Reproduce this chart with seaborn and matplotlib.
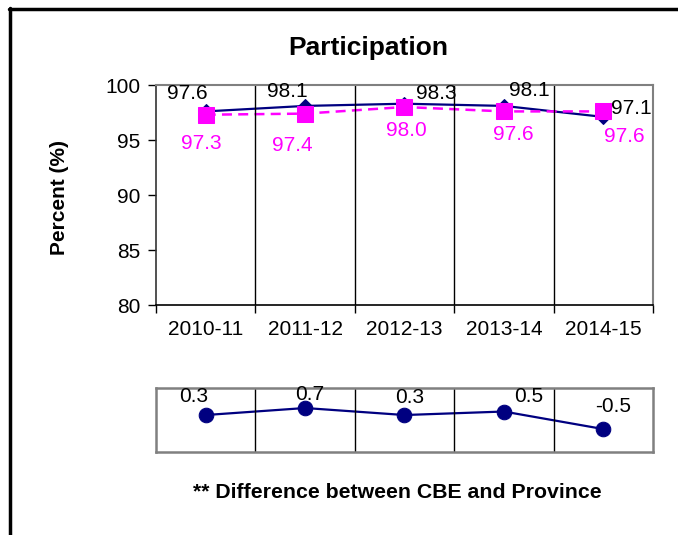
import matplotlib
matplotlib.use("Agg")
import matplotlib.pyplot as plt
import seaborn as sns
import pandas as pd
from matplotlib.lines import Line2D

years = ["2010-11", "2011-12", "2012-13", "2013-14", "2014-15"]
cbe = [97.6, 98.1, 98.3, 98.1, 97.1]
province = [97.3, 97.4, 98.0, 97.6, 97.6]
diff = [0.3, 0.7, 0.3, 0.5, -0.5]
y_ticks = [80, 85, 90, 95, 100]

# label offsets in pixels
cbe_off = [(-18, 18), (-18, 14), (32, 10), (25, 15), (28, 8)]
prov_off = [(-4, -29), (-13, -32), (2, -23), (9, -23), (21, -25)]
diff_off = [(-12, 19), (5, 14), (5, 18), (25, 15), (10, 23)]

NAVY = "#000080"
MAGENTA = "#FF00FF"
GRAY = "#808080"

sns.set_style("white")
plt.rcParams["font.family"] = ["Liberation Sans", "DejaVu Sans"]
plt.rcParams["text.color"] = "black"
plt.rcParams["axes.labelcolor"] = "black"
plt.rcParams["xtick.color"] = "black"
plt.rcParams["ytick.color"] = "black"

df = pd.DataFrame({"year": years, "cbe": cbe, "province": province, "diff": diff})

fig = plt.figure(figsize=(6.78, 5.35), dpi=100)
ax = fig.add_axes([0.2301, 0.4299, 0.7330, 0.4112])
ax2 = fig.add_axes([0.2301, 0.1551, 0.7330, 0.1196])

# main chart
sns.lineplot(data=df, x="year", y="cbe", ax=ax, sort=False, color=NAVY,
             marker="D", markersize=7, markeredgecolor=NAVY, linewidth=1.6)
sns.lineplot(data=df, x="year", y="province", ax=ax, sort=False, color=MAGENTA,
             marker="s", markersize=11, markeredgecolor=MAGENTA, linewidth=1.8,
             linestyle=(0, (4, 2.5)))

for i, v in enumerate(cbe):
    ax.annotate(f"{v:.1f}", (i, v), xytext=cbe_off[i], textcoords="offset pixels",
                ha="center", va="center", fontsize=15, color="black")
for i, v in enumerate(province):
    ax.annotate(f"{v:.1f}", (i, v), xytext=prov_off[i], textcoords="offset pixels",
                ha="center", va="center", fontsize=15, color=MAGENTA)

ax.set_xlim(-0.5, len(years) - 0.5)
ax.set_ylim(80, 100)
ax.set_yticks(y_ticks)
ax.tick_params(axis="y", labelsize=15, length=6, direction="out", left=True,
               width=1, color="black", pad=5)
ax.set_xticks([i - 0.5 for i in range(len(years) + 1)])
ax.set_xticklabels([])
ax.set_xticks(range(len(years)), minor=True)
ax.set_xticklabels(years, minor=True)
ax.tick_params(axis="x", which="major", length=6, direction="out", bottom=True,
               width=1, color="black")
ax.tick_params(axis="x", which="minor", length=0, labelsize=15, pad=11)
for b in range(1, len(years)):
    ax.axvline(b - 0.5, color="black", linewidth=1)
ax.set_xlabel("")
ax.set_ylabel("Percent (%)", fontsize=15, fontweight="bold")
ax.yaxis.set_label_coords(-0.176, 0.49)
for side in ["top", "right"]:
    ax.spines[side].set_color(GRAY)
    ax.spines[side].set_linewidth(1.5)
ax.spines["left"].set_color("#333333")
ax.spines["left"].set_linewidth(1.2)
ax.spines["bottom"].set_color("black")
ax.spines["bottom"].set_linewidth(1.2)

fig.text(368 / 678, 1 - 48 / 535, "Participation", ha="center", va="center",
         fontsize=19, fontweight="bold")

# difference panel
sns.lineplot(data=df, x="year", y="diff", ax=ax2, sort=False, color=NAVY,
             marker="o", markersize=10.5, markeredgecolor=NAVY, linewidth=1.6)
for i, v in enumerate(diff):
    ax2.annotate(f"{v:.1f}", (i, v), xytext=diff_off[i], textcoords="offset pixels",
                 ha="center", va="center", fontsize=15, color="black")
ax2.set_xlim(-0.5, len(years) - 0.5)
ax2.set_ylim(-1.81, 1.84)
ax2.set_xticks([])
ax2.set_yticks([])
ax2.set_xlabel("")
ax2.set_ylabel("")
for b in range(1, len(years)):
    ax2.axvline(b - 0.5, color="black", linewidth=1)
for side in ax2.spines.values():
    side.set_color(GRAY)
    side.set_linewidth(1.8)

fig.text(397 / 678, 1 - 492 / 535, "** Difference between CBE and Province",
         ha="center", va="center", fontsize=15.3, fontweight="bold")

# outer frame (top and left edges only)
fig.add_artist(Line2D([9 / 678, 1], [1 - 9 / 535, 1 - 9 / 535],
                      transform=fig.transFigure, color="black", linewidth=2.5))
fig.add_artist(Line2D([10 / 678, 10 / 678], [1 - 8 / 535, 0],
                      transform=fig.transFigure, color="black", linewidth=2.5))

fig.savefig("out.png", dpi=100)
